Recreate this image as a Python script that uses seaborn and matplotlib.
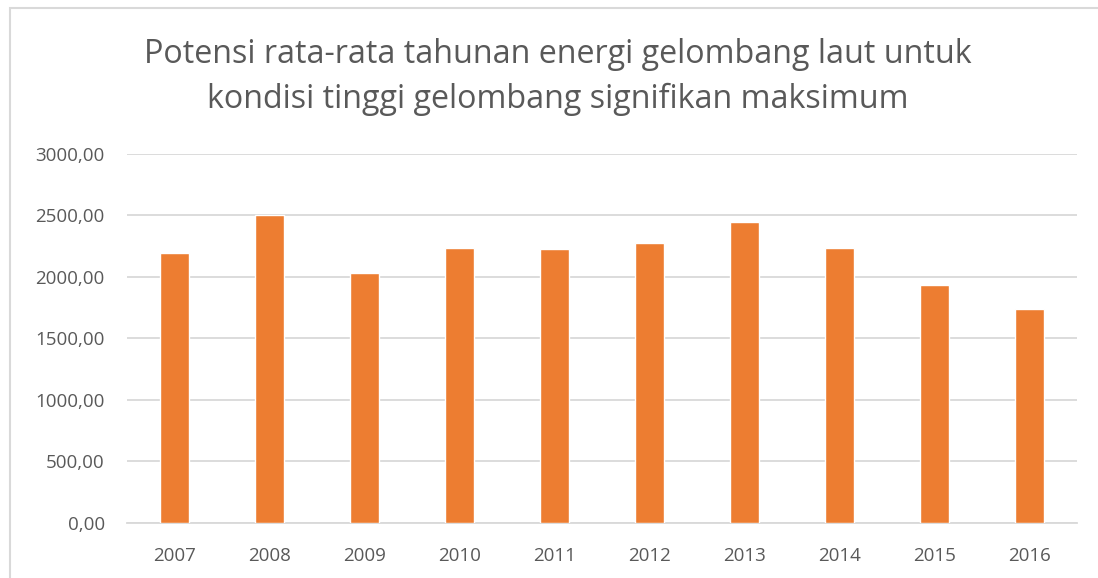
import matplotlib
matplotlib.use("Agg")
import matplotlib.pyplot as plt
import matplotlib.ticker as mticker
from matplotlib.patches import Rectangle
import pandas as pd
import seaborn as sns

years = ["2007", "2008", "2009", "2010", "2011", "2012", "2013", "2014", "2015", "2016"]
energy = [2198, 2502, 2035, 2239, 2225, 2277, 2451, 2239, 1931, 1736]

title = "Potensi rata-rata tahunan energi gelombang laut untuk\nkondisi tinggi gelombang signifikan maksimum"

sns.set_theme(style="white")
plt.rcParams["font.family"] = ["Open Sans", "DejaVu Sans"]

df = pd.DataFrame({"year": years, "energy": energy})

fig = plt.figure(figsize=(10.98, 5.78), dpi=100)
ax = fig.add_axes([0.1157, 0.0952, 0.865, 0.6384])

sns.barplot(data=df, x="year", y="energy", color="#ED7D31", width=0.31,
            saturation=1, ax=ax, zorder=3)

ax.set_ylim(0, 3000)
ax.set_yticks(range(0, 3001, 500))
ax.yaxis.set_major_formatter(mticker.FuncFormatter(lambda v, p: f"{v:.2f}".replace(".", ",")))
ax.grid(axis="y", color="#D9D9D9", linewidth=1.3, zorder=0)
ax.set_xlabel("")
ax.set_ylabel("")
for s in ["top", "right", "left"]:
    ax.spines[s].set_visible(False)
ax.spines["bottom"].set_color("#D9D9D9")
ax.spines["bottom"].set_linewidth(1.3)
ax.tick_params(axis="both", length=0, labelsize=13.5, colors="#595959")
ax.tick_params(axis="y", pad=16)
ax.tick_params(axis="x", pad=17)

fig.text(0.508, 0.866, title, ha="center", va="center", fontsize=23.2,
         color="#595959", linespacing=1.47)

# outer chart frame (cropped on the right and bottom)
fig.patches.append(Rectangle((10 / 1098, -0.05), 1.2, 1 - 8 / 578 + 0.05,
                             transform=fig.transFigure, fill=False,
                             edgecolor="#D9D9D9", linewidth=1.5))

fig.savefig("out.png", dpi=100)
